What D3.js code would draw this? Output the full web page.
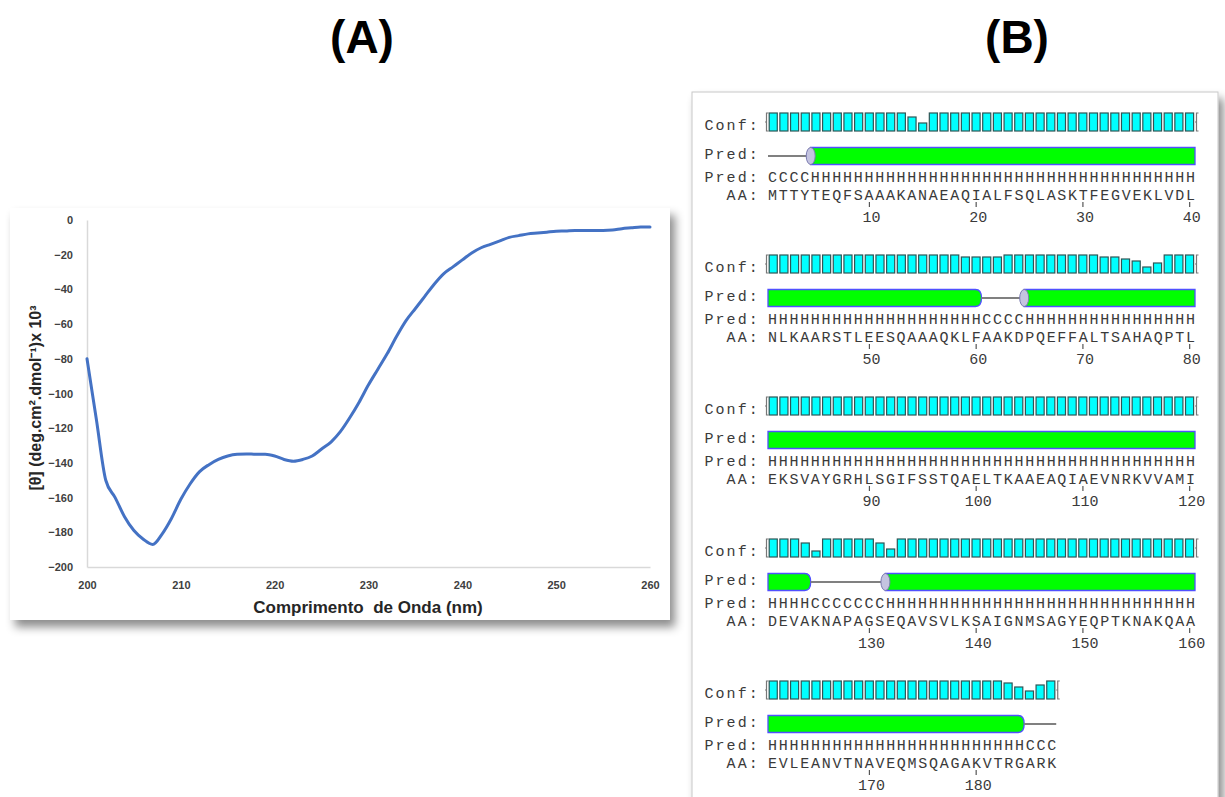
<!DOCTYPE html>
<html>
<head>
<meta charset="utf-8">
<script src="https://cdn.jsdelivr.net/npm/d3@7"></script>
<style>
  body { margin: 0; background: #fff; }
  svg { display: block; }
</style>
</head>
<body>
<div id="fig"></div>
<script>
// CD spectrum (panel A)
const wavelength = [200,201,202,203,204,205,206,207,208,209,210,211,212,213,214,215,216,217,218,219,220,
  221,222,223,224,225,226,227,228,229,230,231,232,233,234,235,236,237,238,239,240,
  241,242,243,244,245,246,247,248,249,250,251,252,253,254,255,256,257,258,259,260];
const ellipticity = [-80,-115,-150,-160,-171,-179,-184,-187,-181,-172,-161,-152,-145,-141,-138,-136,-135,-134.8,-135,-135,-136,
  -138,-139,-138,-136,-132,-128,-122,-114,-105,-95,-86,-77,-67,-58,-51,-44,-37,-31,-27,-23,
  -19,-16,-14,-12,-10,-9,-8,-7.5,-7,-6.5,-6.3,-6,-6,-6,-6,-5.8,-5,-4.5,-4,-4];
const xTicks = [200,210,220,230,240,250,260];
const yTicks = [0,-20,-40,-60,-80,-100,-120,-140,-160,-180,-200];

// PSIPRED prediction (panel B), one string per row of 40 residues
const aaRows = [
  "MTTYTEQFSAAAKANAEAQIALFSQLASKTFEGVEKLVDL",
  "NLKAARSTLEESQAAAQKLFAAKDPQEFFALTSAHAQPTL",
  "EKSVAYGRHLSGIFSSTQAELTKAAEAQIAEVNRKVVAMI",
  "DEVAKNAPAGSEQAVSVLKSAIGNMSAGYEQPTKNAKQAA",
  "EVLEANVTNAVEQMSQAGAKVTRGARK"
];
const predRows = [
  "CCCCHHHHHHHHHHHHHHHHHHHHHHHHHHHHHHHHHHHH",
  "HHHHHHHHHHHHHHHHHHHHCCCCHHHHHHHHHHHHHHHH",
  "HHHHHHHHHHHHHHHHHHHHHHHHHHHHHHHHHHHHHHHH",
  "HHHHCCCCCCCHHHHHHHHHHHHHHHHHHHHHHHHHHHHH",
  "HHHHHHHHHHHHHHHHHHHHHHHHCCC"
];
const confRows = [
  "9999999999999749999999999999999999999999",
  "9999999999999999998888999999999887635999",
  "9999999999999999999999999999999999999999",
  "9997399999749999999999999999999999999999",
  "999999999999999999999986479"
];
const rowTicks = [[10,20,30,40],[50,60,70,80],[90,100,110,120],[130,140,150,160],[170,180]];

const W = 1225, H = 797;
const svg = d3.select("#fig").append("svg").attr("width", W).attr("height", H);

const defs = svg.append("defs");
defs.append("filter").attr("id", "shadow")
    .attr("x", "-5%").attr("y", "-5%").attr("width", "115%").attr("height", "115%")
  .append("feDropShadow")
    .attr("dx", 5).attr("dy", 7).attr("stdDeviation", 5)
    .attr("flood-color", "#000").attr("flood-opacity", 0.45);

// panel titles
const titleFont = "bold 46px 'Liberation Sans', Arial, sans-serif";
svg.append("text").attr("x", 362).attr("y", 53).attr("text-anchor", "middle")
  .style("font", titleFont).text("(A)");
svg.append("text").attr("x", 1017).attr("y", 53).attr("text-anchor", "middle")
  .style("font", titleFont).text("(B)");

// ---------- panel A ----------
svg.append("rect").attr("x", 10).attr("y", 208).attr("width", 660).attr("height", 412)
  .attr("fill", "#fff").attr("filter", "url(#shadow)");

const x = d3.scaleLinear().domain([200, 260]).range([87, 650]);
const y = d3.scaleLinear().domain([-200, 0]).range([567, 220]);

const gA = svg.append("g");
const lblFont = "bold 11px 'Liberation Sans', Arial, sans-serif";

const yAxis = gA.append("g").attr("transform", "translate(87,0)")
  .call(d3.axisLeft(y).tickValues(yTicks).tickSize(0).tickPadding(14));
const xAxis = gA.append("g").attr("transform", "translate(0,567)")
  .call(d3.axisBottom(x).tickValues(xTicks).tickSize(0).tickPadding(14));
[xAxis, yAxis].forEach(a => {
  a.select(".domain").attr("stroke", "#d9d9d9").attr("stroke-width", 1.5);
  a.selectAll("text").style("font", lblFont).attr("fill", "#404040");
});

gA.append("path")
  .datum(wavelength.map((w, i) => [w, ellipticity[i]]))
  .attr("fill", "none").attr("stroke", "#4472c4").attr("stroke-width", 3)
  .attr("stroke-linejoin", "round").attr("stroke-linecap", "round")
  .attr("d", d3.line().x(d => x(d[0])).y(d => y(d[1])).curve(d3.curveMonotoneX));

gA.append("text").attr("x", 368).attr("y", 613).attr("text-anchor", "middle")
  .style("font", "bold 17px 'Liberation Sans', Arial, sans-serif").attr("fill", "#262626")
  .attr("xml:space", "preserve")
  .text("Comprimento  de Onda (nm)");
gA.append("text").attr("transform", "translate(41,398) rotate(-90)").attr("text-anchor", "middle")
  .style("font", "bold 16px 'Liberation Sans', Arial, sans-serif").attr("fill", "#262626")
  .text("[θ] (deg.cm².dmol⁻¹)x 10³");

// ---------- panel B ----------
svg.append("rect").attr("x", 692).attr("y", 92).attr("width", 526).attr("height", 720)
  .attr("fill", "#fff").attr("stroke", "#c8c8c8").attr("filter", "url(#shadow)");

const step = (1195 - 768) / 40;
const xr = d3.scaleLinear().domain([0, 40]).range([768, 1195]);
const hConf = d3.scaleLinear().domain([0, 9]).range([0, 18]);
const monoFont = "15px 'Liberation Mono', 'DejaVu Sans Mono', monospace";
const txtCol = "#3a3a3a";

function monoText(g, str, x0, yy) {
  g.append("text").attr("x", x0).attr("y", yy)
    .attr("textLength", str.length * step).attr("lengthAdjust", "spacing")
    .style("font", monoFont).attr("fill", txtCol)
    .attr("xml:space", "preserve").text(str);
}

aaRows.forEach((aa, r) => {
  const g = svg.append("g").attr("transform", `translate(0,${r * 142})`);
  const n = aa.length;
  const conf = confRows[r].split("").map(Number);
  const pred = predRows[r];

  // labels
  monoText(g, "Conf:", 706 - step * 0.15, 130);
  monoText(g, "Pred:", 706 - step * 0.15, 159);
  monoText(g, "Pred:", 706 - step * 0.15, 182);
  monoText(g, "  AA:", 706 - step * 0.15, 200);

  // confidence bars
  const base = 131;
  g.selectAll("rect.conf").data(conf).enter().append("rect")
    .attr("class", "conf")
    .attr("x", (d, i) => xr(i) + 1.2)
    .attr("width", step - 2.6)
    .attr("y", d => base - hConf(d))
    .attr("height", d => hConf(d))
    .attr("fill", "#00ffff").attr("stroke", "#2f5555").attr("stroke-width", 1.2);
  [xr(0) - 1.5, xr(n) + 1.5].forEach(bx => {
    g.append("path").attr("d", `M${bx + 2},${base - 18}h-2v18h2M${bx},${base - 9}h-1.5`)
      .attr("fill", "none").attr("stroke", "#777").attr("stroke-width", 1.2);
  });

  // secondary structure cartoon
  const segs = [];
  for (let i = 0; i < n; i++) {
    if (i === 0 || pred[i] !== pred[i - 1]) segs.push({ t: pred[i], s: i, e: i + 1 });
    else segs[segs.length - 1].e = i + 1;
  }
  const cy = 156, hh = 8.5;
  segs.forEach((sg, k) => {
    const x0 = xr(sg.s), x1 = xr(sg.e);
    if (sg.t === "C") {
      g.append("line").attr("x1", x0).attr("x2", x1).attr("y1", cy).attr("y2", cy)
        .attr("stroke", "#808080").attr("stroke-width", 2);
    } else {
      const roundR = k < segs.length - 1 ? 6 : 0;
      const p = `M${x0},${cy - hh}H${x1 - roundR}` +
        (roundR ? `Q${x1},${cy - hh} ${x1},${cy}Q${x1},${cy + hh} ${x1 - roundR},${cy + hh}` : `V${cy + hh}`) +
        `H${x0}Z`;
      g.append("path").attr("d", p).attr("fill", "#00ff00")
        .attr("stroke", "#5050ff").attr("stroke-width", 1.3);
      if (k > 0) {
        g.append("ellipse").attr("cx", x0).attr("cy", cy).attr("rx", 4.5).attr("ry", hh)
          .attr("fill", "#c4c4e0").attr("stroke", "#7a7ab0").attr("stroke-width", 1);
      }
    }
  });

  // sequence lines
  monoText(g, pred, xr(0), 182);
  monoText(g, aa, xr(0), 200);

  // position ticks
  const off = r * 40;
  rowTicks[r].forEach(t => {
    const cx = xr(t - off - 0.5);
    g.append("line").attr("x1", cx).attr("x2", cx).attr("y1", 202).attr("y2", 207)
      .attr("stroke", "#555").attr("stroke-width", 1.2);
    g.append("text").attr("x", cx + 2).attr("y", 222).attr("text-anchor", "middle")
      .style("font", monoFont).attr("fill", txtCol).text(t);
  });
});
</script>
</body>
</html>
